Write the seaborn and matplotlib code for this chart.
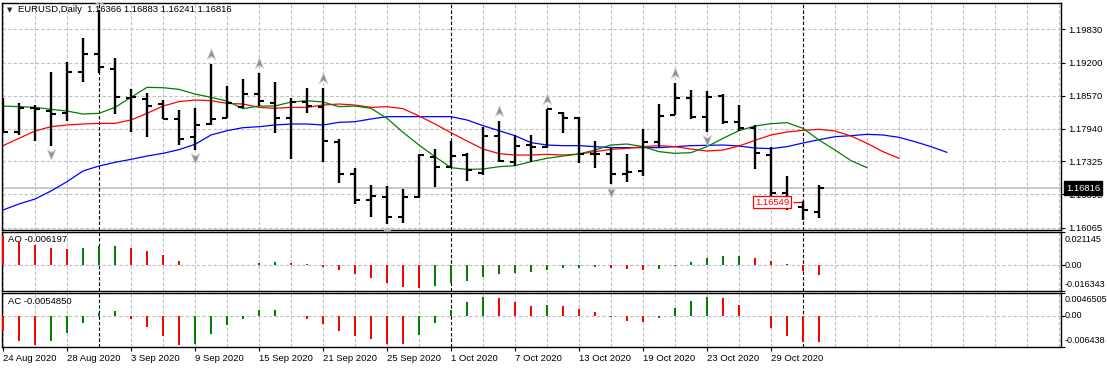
import numpy as np
import pandas as pd
import seaborn as sns
import matplotlib.pyplot as plt
from matplotlib.path import Path
from matplotlib.ticker import MultipleLocator
from matplotlib.transforms import blended_transform_factory, offset_copy

sns.set_theme(style="white")
plt.rcParams['font.family'] = ['Liberation Sans', 'DejaVu Sans']

# EURUSD daily bars
opens = [1.18362, 1.17881, 1.18330, 1.18286, 1.18235, 1.19013, 1.19355, 1.19077, 1.18520, 1.18513,
         1.18412, 1.18121, 1.17792, 1.18033, 1.18147, 1.18362, 1.18608, 1.18438, 1.18140, 1.18457,
         1.18362, 1.17697, 1.17084, 1.16590, 1.16654, 1.16268, 1.16641, 1.17400, 1.17223, 1.17444,
         1.17109, 1.17811, 1.17318, 1.17634, 1.17590, 1.18248, 1.18140, 1.17457, 1.17457, 1.17078,
         1.17147, 1.17697, 1.18204, 1.18520, 1.18172, 1.18564, 1.18064, 1.17950, 1.17444, 1.16730,
         1.16451, 1.16366]
highs = [1.18532, 1.18425, 1.18393, 1.19026, 1.19203, 1.19671, 1.20196, 1.19279, 1.18691, 1.18615,
         1.18488, 1.18298, 1.18330, 1.19171, 1.18754, 1.18887, 1.19001, 1.18830, 1.18520, 1.18716,
         1.18722, 1.17742, 1.17191, 1.16875, 1.16856, 1.16799, 1.17457, 1.17558, 1.17716, 1.17476,
         1.17982, 1.18096, 1.17824, 1.17824, 1.18317, 1.18267, 1.18159, 1.17710, 1.17571, 1.17463,
         1.17938, 1.18412, 1.18817, 1.18678, 1.18659, 1.18596, 1.18393, 1.18007, 1.17603, 1.17046,
         1.16571, 1.16883]
lows = [1.17856, 1.17824, 1.17716, 1.17622, 1.18096, 1.18836, 1.19007, 1.18216, 1.17887, 1.17792,
        1.18128, 1.17641, 1.17539, 1.18014, 1.18140, 1.18330, 1.18374, 1.17868, 1.17369, 1.18248,
        1.17318, 1.16907, 1.16515, 1.16261, 1.16129, 1.16148, 1.16622, 1.16843, 1.17191, 1.16957,
        1.17065, 1.17318, 1.17242, 1.17305, 1.17571, 1.17868, 1.17299, 1.17191, 1.16888, 1.16938,
        1.17046, 1.17603, 1.18204, 1.18128, 1.17875, 1.18033, 1.17906, 1.17172, 1.16622, 1.16401,
        1.16211, 1.16241]
closes = [1.17881, 1.18330, 1.18311, 1.18222, 1.19026, 1.19355, 1.19121, 1.18545, 1.18539, 1.18374,
          1.18134, 1.17742, 1.18020, 1.18134, 1.18438, 1.18608, 1.18476, 1.18153, 1.18457, 1.18374,
          1.17716, 1.17090, 1.16590, 1.16673, 1.16274, 1.16654, 1.17444, 1.17223, 1.17432, 1.17160,
          1.17811, 1.17337, 1.17622, 1.17603, 1.18311, 1.18140, 1.17457, 1.17457, 1.17078, 1.17128,
          1.17697, 1.18191, 1.18532, 1.18172, 1.18551, 1.18064, 1.17957, 1.17476, 1.16730, 1.16432,
          1.16401, 1.16816]

# Alligator lines (shifted forward past the last bar)
jaw = [1.16401, 1.16515, 1.16609, 1.16761, 1.16938, 1.17141, 1.17236, 1.17305, 1.17362, 1.17425,
       1.17476, 1.17546, 1.17647, 1.17824, 1.17906, 1.17963, 1.17982, 1.18014, 1.18033, 1.18033,
       1.18014, 1.18064, 1.18077, 1.18128, 1.18172, 1.18172, 1.18172, 1.18172, 1.18172, 1.18109,
       1.18001, 1.17906, 1.17811, 1.17679, 1.17634, 1.17622, 1.17622, 1.17603, 1.17584, 1.17584,
       1.17584, 1.17584, 1.17603, 1.17622, 1.17628, 1.17634, 1.17615, 1.17577, 1.17565, 1.17603,
       1.17672, 1.17735, 1.17792, 1.17811, 1.17837, 1.17824, 1.17780, 1.17697, 1.17603, 1.17495]
teeth = [1.17622, 1.17761, 1.17900, 1.17982, 1.18014, 1.18033, 1.18045, 1.18045, 1.18109, 1.18235,
         1.18374, 1.18457, 1.18488, 1.18476, 1.18425, 1.18412, 1.18349, 1.18330, 1.18349, 1.18349,
         1.18393, 1.18412, 1.18393, 1.18349, 1.18362, 1.18324, 1.18185, 1.18033, 1.17868, 1.17710,
         1.17558, 1.17470, 1.17444, 1.17444, 1.17457, 1.17444, 1.17463, 1.17508, 1.17552, 1.17571,
         1.17603, 1.17622, 1.17603, 1.17558, 1.17520, 1.17539, 1.17615, 1.17723, 1.17824, 1.17881,
         1.17913, 1.17932, 1.17900, 1.17805, 1.17666, 1.17508, 1.17381]
lips = [1.18374, 1.18362, 1.18349, 1.18311, 1.18279, 1.18222, 1.18235, 1.18349, 1.18539, 1.18729,
        1.18722, 1.18691, 1.18602, 1.18539, 1.18469, 1.18324, 1.18374, 1.18374, 1.18450, 1.18476,
        1.18450, 1.18362, 1.18374, 1.18330, 1.18140, 1.17875, 1.17634, 1.17413, 1.17204, 1.17172,
        1.17179, 1.17223, 1.17242, 1.17318, 1.17381, 1.17425, 1.17463, 1.17539, 1.17634, 1.17653,
        1.17603, 1.17508, 1.17476, 1.17489, 1.17603, 1.17761, 1.17906, 1.17995, 1.18039, 1.18058,
        1.17950, 1.17729, 1.17539, 1.17337, 1.17204]

ao = [0.01853, 0.01432, 0.01264, 0.01074, 0.01011, 0.01080, 0.01210, 0.01220, 0.01074, 0.00885,
      0.00632, 0.00253, 0.00021, 0.00010, 0.00015, 0.00030, 0.00126, 0.00190, 0.00126, 0.00063,
      -0.00105, -0.00295, -0.00548, -0.00800, -0.01116, -0.01369, -0.01432, -0.01306, -0.01116, -0.00990,
      -0.00737, -0.00548, -0.00484, -0.00421, -0.00295, -0.00190, -0.00168, -0.00147, -0.00190, -0.00253,
      -0.00316, -0.00232, -0.00063, 0.00190, 0.00442, 0.00569, 0.00590, 0.00442, 0.00253, 0.00042,
      -0.00379, -0.006197]
ac = [-0.00324, -0.00518, -0.00600, -0.00518, -0.00359, -0.00152, 0.00062, 0.00090, -0.00062, -0.00228,
      -0.00414, -0.00600, -0.00580, -0.00373, -0.00186, -0.00062, 0.00110, 0.00124, -0.00007, -0.00062,
      -0.00166, -0.00311, -0.00414, -0.00476, -0.00580, -0.00587, -0.00393, -0.00145, 0.00124, 0.00290,
      0.00393, 0.00373, 0.00290, 0.00200, 0.00214, 0.00207, 0.00145, 0.00083, -0.00021, -0.00104,
      -0.00124, -0.00041, 0.00166, 0.00311, 0.00393, 0.00373, 0.00228, -0.00007, -0.00248, -0.00414,
      -0.00538, -0.005485]

fractal_up = [6, 13, 16, 20, 31, 34, 42]
fractal_down = [3, 12, 24, 38, 44]

price_ticks = [1.19830, 1.19200, 1.18570, 1.17940, 1.17325, 1.16695, 1.16065]
price_range = (1.16021, 1.20339)
ao_range = (-0.016343, 0.021145)
ac_range = (-0.006438, 0.0046505)
bid = 1.16816
marked_level = 1.16549

n = len(closes)
x = np.arange(n)
dates = pd.bdate_range("2020-08-24", periods=n)

W, H = 1107, 368
FS = 6.8
fig = plt.figure(figsize=(W / 100, H / 100), dpi=100)
fig.patch.set_facecolor('white')


def panel(top, bottom, **kw):
    return fig.add_axes([2 / W, 1 - bottom / H, 1059 / W, (bottom - top) / H], **kw)


ax = panel(2.5, 230)
ax_ao = panel(231.7, 291, sharex=ax)
ax_ac = panel(293.3, 346.7, sharex=ax)

grid_kw = dict(color='#c0c0c0', linestyle=(0, (3, 2)), linewidth=0.8)
month_start = [i for i in range(1, n) if dates[i].month != dates[i - 1].month]

for a in (ax, ax_ao, ax_ac):
    a.set_facecolor('white')
    for s in a.spines.values():
        s.set_color('black')
        s.set_linewidth(1.0)
    a.set_axisbelow(True)
    a.xaxis.set_minor_locator(MultipleLocator(2))
    a.grid(True, which='both', axis='x', **grid_kw)
    a.grid(True, which='major', axis='y', **grid_kw)
    a.yaxis.tick_right()
    a.tick_params(axis='y', which='both', right=True, left=False, direction='out',
                  length=3, width=0.8, pad=2, labelsize=FS, colors='black')
    for i in month_start:
        a.axvline(i, color='black', lw=0.8, ls=(0, (3, 2)), zorder=1)

ax.set_xlim(-0.0625, 66.125)

# --- price panel: OHLC bars
ax.axhline(bid, color='#c0c0c0', lw=1.2, zorder=0.8)
ax.vlines(x, lows, highs, color='black', lw=1.7, zorder=3)
ax.hlines(opens, x - 0.32, x, color='black', lw=1.5, zorder=3)
ax.hlines(closes, x, x + 0.32, color='black', lw=1.5, zorder=3)

sns.lineplot(x=np.arange(len(jaw)), y=jaw, ax=ax, color='#0000ff', lw=0.9, zorder=2)
sns.lineplot(x=np.arange(len(teeth)), y=teeth, ax=ax, color='#ff0000', lw=0.9, zorder=2)
sns.lineplot(x=np.arange(len(lips)), y=lips, ax=ax, color='#008000', lw=0.9, zorder=2)

arrow = Path([(0, 1), (0.75, -0.9), (0, -0.35), (-0.75, -0.9), (0, 1)],
             [Path.MOVETO, Path.LINETO, Path.LINETO, Path.LINETO, Path.CLOSEPOLY])
arrow_dn = Path(arrow.vertices * [1, -1], arrow.codes)
up_y = [highs[i] + 0.0019 for i in fractal_up]
dn_y = [lows[i] - 0.0015 for i in fractal_down]
ax.plot(fractal_up, up_y, ls='none', marker=arrow, ms=8, mfc='#8c8c8c', mec='#d0d0d0', mew=0.6, zorder=4)
ax.plot(fractal_down, dn_y, ls='none', marker=arrow_dn, ms=8, mfc='#8c8c8c', mec='#d0d0d0', mew=0.6, zorder=4)

ax.set_ylim(*price_range)
ax.set_yticks(price_ticks)
ax.set_yticklabels([f"{p:.5f}" for p in price_ticks])
ax.set_ylabel('')

# marked level label
ax.text(48.06, marked_level, f"{marked_level:.5f}", color='red', fontsize=FS, ha='center', va='center',
        bbox=dict(boxstyle='square,pad=0.15', fc='white', ec='red', lw=0.9), zorder=6)
ax.hlines(marked_level, 49.4, 49.95, color='red', lw=0.9, zorder=5)

# bid label box on the price scale
tr_bid = offset_copy(blended_transform_factory(ax.transAxes, ax.transData), fig=fig, x=5, y=0, units='dots')
ax.text(1, bid, f"{bid:.5f}", transform=tr_bid, color='white', fontsize=FS, ha='left', va='center',
        bbox=dict(boxstyle='square,pad=0.25', fc='black', ec='black'), clip_on=False, zorder=10)


# --- AO / AC panels
def osc_panel(a, vals, rng, fmt_hi, fmt_lo, dy_hi, dy_lo):
    vals = np.asarray(vals)
    up = np.r_[False, np.diff(vals) > 0]
    colors = np.where(up, '#008000', '#ff0000')
    a.bar(x, vals, width=0.18, color=colors, edgecolor='none', linewidth=0, zorder=3)
    a.set_ylim(*rng)
    a.set_yticks([rng[0], 0, rng[1]])
    a.tick_params(axis='y', labelright=False)
    for val, s, dy in ((rng[1], fmt_hi, dy_hi), (0, '0.00', 0), (rng[0], fmt_lo, dy_lo)):
        tr = offset_copy(blended_transform_factory(a.transAxes, a.transData), fig=fig, x=4, y=dy, units='dots')
        a.text(1, val, s, transform=tr, fontsize=6.5, ha='left', va='center', color='black', clip_on=False)


osc_panel(ax_ao, ao, ao_range, '0.021145', '-0.016343', -8, 6.5)
osc_panel(ax_ac, ac, ac_range, '0.0046505', '-0.006438', -6, 6)

# x axis labels
ax_ac.set_xticks(x[::4])
ax_ac.set_xticklabels([f"{d.day} {d:%b %Y}" for d in dates[::4]], ha='left')
ax_ac.tick_params(axis='x', which='major', bottom=True, direction='out', length=3, width=0.8,
                  pad=2, labelsize=FS, colors='black')
ax_ac.tick_params(axis='x', which='minor', bottom=False)
for a in (ax, ax_ao):
    a.tick_params(axis='x', which='both', bottom=False, labelbottom=False)

# header texts
fig.text(9.5 / W, 1 - 10 / H, '\u25bc', fontsize=5, family='DejaVu Sans', ha='center', va='center')
fig.text(18 / W, 1 - 10 / H,
         f"EURUSD,Daily  {opens[-1]:.5f} {highs[-1]:.5f} {lows[-1]:.5f} {closes[-1]:.5f}",
         fontsize=FS, ha='left', va='center', color='black')
fig.text(8 / W, 1 - 240 / H, f"AO {ao[-1]:.6f}", fontsize=FS, ha='left', va='center', color='black')
fig.text(8 / W, 1 - 302 / H, f"AC {ac[-1]:.7f}", fontsize=FS, ha='left', va='center', color='black')

fig.savefig('out.png', dpi=100)
